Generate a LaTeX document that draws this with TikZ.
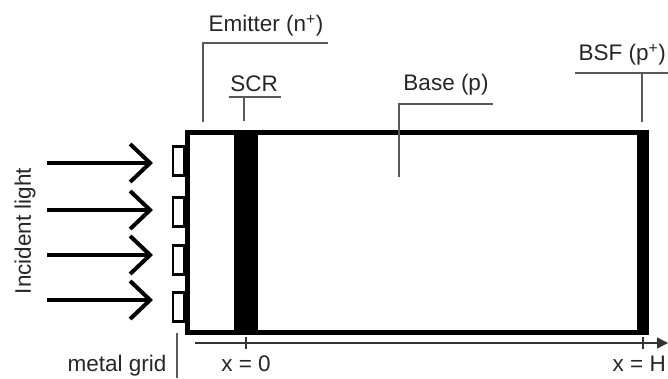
\documentclass[tikz,border=0pt]{standalone}
\usepackage{fontspec}
\setmainfont{Liberation Sans}
\usetikzlibrary{arrows.meta}
\begin{document}
\begin{tikzpicture}[x=1pt,y=-1pt,
  lbl/.style={font=\fontsize{22.5}{26}\selectfont, text=black!85, inner sep=0pt},
  leader/.style={draw=black!65, line width=1.4pt},
  wall/.style={draw=black, line width=5pt},
  band/.style={fill=black, draw=none},
  gridbar/.style={draw=black, line width=2.8pt, fill=white},
  ray/.style={line width=4pt, -{Straight Barb[length=20pt,width=38pt,line width=4pt]}},
  axis/.style={line width=1.4pt, draw=black!80, -{Triangle[length=11pt,width=11pt]}},
  tick/.style={line width=1.4pt, draw=black!80}]
\useasboundingbox (0,0) rectangle (668,378);

% cell body and its doped layers
\fill[band] (234,132.5) rectangle (258,332);
\fill[band] (637,132.5) rectangle (646.5,332);
\draw[wall] (187.5,132.5) rectangle (646.5,332);

% front metal grid fingers
\draw[gridbar] (173,146.5) rectangle (184,175.5);
\draw[gridbar] (173,197.5) rectangle (184,226.5);
\draw[gridbar] (173,245.5) rectangle (184,274.5);
\draw[gridbar] (173,292.5) rectangle (184,321.5);

% incident light rays
\foreach \i/\y in {1/163,2/210,3/255,4/300}{
  \coordinate (src\i) at (47,\y);
  \coordinate (dst\i) at (153,\y);
  \draw[ray] (src\i) -- (dst\i);
}
\node[lbl, rotate=90] (light) at (25,231) {Incident light};

% position axis
\coordinate (ax0) at (195,343);
\coordinate (ax1) at (668,343);
\draw[axis] (ax0) -- (ax1);
\coordinate (t0a) at (246,337); \coordinate (t0b) at (246,349);
\coordinate (tHa) at (643,337); \coordinate (tHb) at (643,349);
\draw[tick] (t0a) -- (t0b);
\draw[tick] (tHa) -- (tHb);
\node[lbl] (x0) at (246,364) {x = 0};
\node[lbl, anchor=east] (xH) at (666,364) {x = H};

% layer labels with leaders
\node[lbl] (emit) at (266,26) {Emitter (n\textsuperscript{+})};
\coordinate (e1) at (328,43); \coordinate (e2) at (203,43); \coordinate (e3) at (203,122);
\draw[leader] (e1) -- (e2) -- (e3);

\node[lbl] (scr) at (254,84) {SCR};
\coordinate (s1) at (229,97); \coordinate (s2) at (281,97);
\coordinate (s3) at (244,97); \coordinate (s4) at (244,121);
\draw[leader] (s1) -- (s2);
\draw[leader] (s3) -- (s4);

\node[lbl] (base) at (446,85) {Base (p)};
\coordinate (b1) at (493,104); \coordinate (b2) at (399,104); \coordinate (b3) at (399,177);
\draw[leader] (b1) -- (b2) -- (b3);

\node[lbl, anchor=east] (bsf) at (666,55) {BSF (p\textsuperscript{+})};
\coordinate (f1) at (575,73); \coordinate (f2) at (668,73);
\coordinate (f3) at (642,73); \coordinate (f4) at (642,122);
\draw[leader] (f1) -- (f2);
\draw[leader] (f3) -- (f4);

\node[lbl] (grid) at (117,366) {metal grid};
\coordinate (g1) at (177,333); \coordinate (g2) at (177,378);
\draw[leader] (g1) -- (g2);
\end{tikzpicture}
\end{document}
